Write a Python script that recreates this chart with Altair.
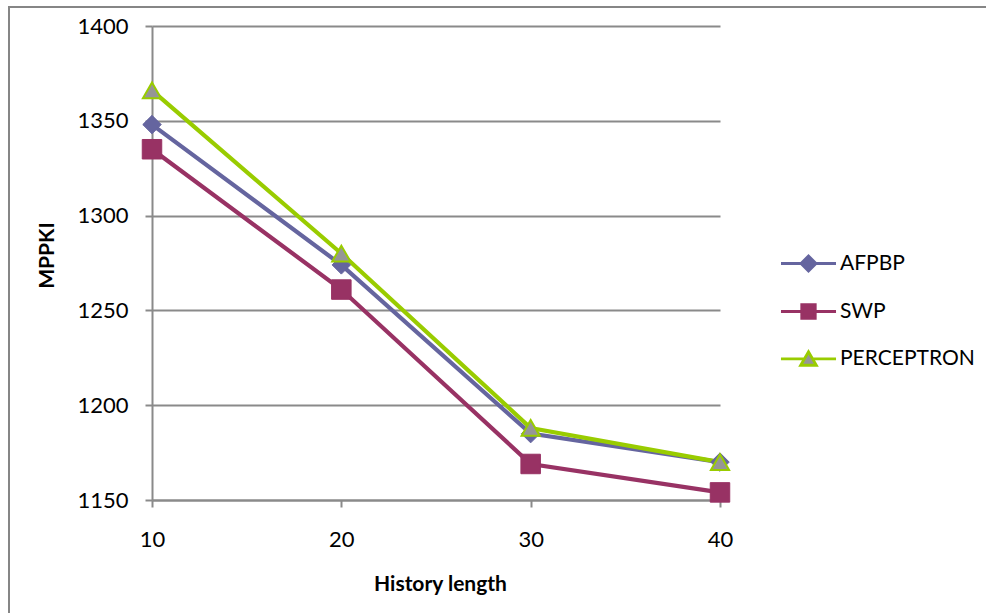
import altair as alt
import pandas as pd

# History length on the x axis, MPPKI per predictor
history = [10, 20, 30, 40]
afpbp = [1348, 1274, 1185, 1170]
swp = [1335, 1261, 1169, 1154]
perceptron = [1366, 1280, 1188, 1170]
series_names = ["AFPBP", "SWP", "PERCEPTRON"]
y_ticks = [1150, 1200, 1250, 1300, 1350, 1400]

rows = []
for name, vals in zip(series_names, [afpbp, swp, perceptron]):
    for h, v in zip(history, vals):
        rows.append({"series": name, "x": h, "y": v})
df = pd.DataFrame(rows)

FONT = "Lato"
GRID = "#8a8a8a"
line_colors = ["#65659f", "#983264", "#99cc00"]
fill_colors = ["#65659f", "#983264", "#969696"]

stroke_scale = alt.Scale(domain=series_names, range=line_colors)
fill_scale = alt.Scale(domain=series_names, range=fill_colors)

# legend glyphs: a short line with the series marker in its centre
legend_shapes = [
    "M-3.67,0L-1,0L0,-1L1,0L3.67,0L1,0L0,1L-1,0Z",
    "M-3.67,0L-0.9,0M0.9,0L3.67,0M-0.9,-0.9L0.9,-0.9L0.9,0.9L-0.9,0.9Z",
    "M-3.67,0.05L-0.55,0.05M0.55,0.05L3.67,0.05M-1.05,0.9L1.05,0.9L0,-0.9Z",
]
shape_scale = alt.Scale(domain=series_names, range=legend_shapes)

x_enc = alt.X(
    "x:Q",
    scale=alt.Scale(domain=[10, 40], nice=False, zero=False),
    axis=alt.Axis(
        values=history, grid=False, title="History length",
        titleX=288, titleY=84, titleBaseline="middle",
        tickSize=7, labelPadding=22, format="d", labelFlush=False,
    ),
)
y_enc = alt.Y(
    "y:Q",
    scale=alt.Scale(domain=[1150, 1400], nice=False, zero=False),
    axis=alt.Axis(
        values=y_ticks, title="MPPKI", grid=True,
        titleX=-105, titleY=229, titleBaseline="middle", titleAlign="center",
        tickSize=7, labelPadding=17, format="d", labelFlush=False,
    ),
)

base = alt.Chart(df).encode(x=x_enc, y=y_enc)

lines = base.mark_line(strokeWidth=4.2).encode(
    stroke=alt.Stroke("series:N", scale=stroke_scale, legend=None),
    detail="series:N",
)

def markers(name, shape, size, sw):
    return base.transform_filter(alt.datum.series == name).mark_point(
        shape=shape, size=size, strokeWidth=sw, opacity=1, filled=False
    ).encode(
        fill=alt.Fill("series:N", scale=fill_scale, legend=None),
        stroke=alt.Stroke("series:N", scale=stroke_scale, legend=None),
    )

pts_a = markers("AFPBP", "diamond", 340, 1)
pts_s = markers("SWP", "square", 380, 1)
pts_p = markers("PERCEPTRON", "triangle-up", 330, 2)

leg = alt.Legend(
    title=None, orient="none", legendX=646, legendY=227,
    symbolSize=225, symbolStrokeWidth=2.8, symbolOpacity=1,
    labelOffset=21, labelFont=FONT, labelFontSize=21, labelColor="#000000",
    rowPadding=22,
)
# draws nothing itself; carries the legend
legend_layer = base.transform_filter("datum.x < 0").mark_point(opacity=1, filled=False).encode(
    shape=alt.Shape("series:N", scale=shape_scale, legend=leg),
    fill=alt.Fill("series:N", scale=fill_scale, legend=leg),
    stroke=alt.Stroke("series:N", scale=stroke_scale, legend=leg),
)

frame = alt.Chart(pd.DataFrame({"k": [0]})).mark_rect(
    fill=None, stroke="#868686", strokeWidth=2
).encode(
    x=alt.value(-143), x2=alt.value(900), y=alt.value(-19), y2=alt.value(700)
)

chart = alt.layer(frame, legend_layer, lines, pts_a, pts_s, pts_p).properties(
    width=568, height=474,
    background="white",
    autosize=alt.AutoSizeParams(type="none"),
    padding={"left": 152, "top": 26, "right": 266, "bottom": 113},
).configure_view(stroke=None).configure_axis(
    labelFont=FONT, labelFontSize=22, labelColor="#000000",
    titleFont=FONT, titleFontSize=21, titleFontWeight="bold", titleColor="#000000",
    domainColor=GRID, domainWidth=2, tickColor=GRID, tickWidth=2,
    gridColor=GRID, gridWidth=2, gridOpacity=1,
)

chart.save("out.html", embed_options={"renderer": "svg", "actions": False})
